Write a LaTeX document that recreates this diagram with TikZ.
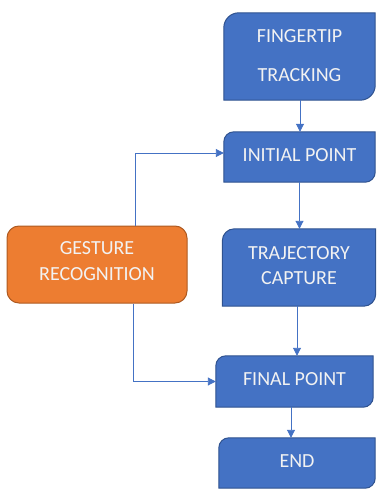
\documentclass[tikz,border=0pt]{standalone}
\usepackage{fontspec}
\setmainfont{Carlito}
\usetikzlibrary{arrows.meta,calc}
\definecolor{boxblue}{HTML}{4472C4}
\definecolor{edgeblue}{HTML}{2F528F}
\definecolor{boxorange}{HTML}{ED7D31}
\definecolor{edgeorange}{HTML}{AE5A21}
\definecolor{txt}{HTML}{F2F2F2}
\newcommand{\diagcornerbox}[2]{%
  \path[fill=boxblue,draw=edgeblue,line width=1pt]
    (#1.south west) -- ([yshift=-#2]#1.north west)
    arc[start angle=180,end angle=90,radius=#2]
    -- (#1.north east) -- ([yshift=#2]#1.south east)
    arc[start angle=0,end angle=-90,radius=#2] -- cycle;}
\tikzset{
  box/.style={rectangle,inner sep=0pt,text=txt,align=center,
    font=\fontsize{20}{25.5}\selectfont},
  orangebox/.style={rectangle,fill=boxorange,draw=edgeorange,line width=1pt,rounded corners=12pt},
  link/.style={draw=boxblue,line width=0.9pt,-{Triangle[length=8pt,width=8pt]}}
}
\begin{document}
\begin{tikzpicture}[x=1pt,y=-1pt]
\useasboundingbox (0,0) rectangle (376,489);
\node[box,minimum width=151pt,minimum height=87pt] (ft) at (299.5,56.5) {};
\node[box,minimum width=151pt,minimum height=50pt] (ip) at (299.5,157) {};
\node[box,minimum width=153pt,minimum height=77pt] (tc) at (299,267.5) {};
\node[box,minimum width=157pt,minimum height=51pt] (fp) at (294.5,381.5) {};
\node[box,minimum width=156pt,minimum height=50pt] (en) at (297,463) {};
\node[orangebox,minimum width=180pt,minimum height=77pt] (gr) at (97,264.5) {};
\diagcornerbox{ft}{15pt}
\diagcornerbox{ip}{10pt}
\diagcornerbox{tc}{12pt}
\diagcornerbox{fp}{10pt}
\diagcornerbox{en}{10pt}
\node[box] at ([yshift=1pt]ft) {FINGERTIP\\[14pt]TRACKING};
\node[box] at ([yshift=1.5pt]ip) {INITIAL POINT};
\node[box] at ([yshift=2pt]tc) {TRAJECTORY\\CAPTURE};
\node[box] at ([yshift=2pt]fp) {FINAL POINT};
\node[box] at ([yshift=1.5pt]en) {END};
\node[box] at ([yshift=3.5pt]gr) {GESTURE\\RECOGNITION};
\draw[link] ([xshift=0.5pt]ft.south) -- ([xshift=0.5pt]ip.north);
\draw[link] (ip.south) -- (ip.south |- tc.north);
\draw[link] ([xshift=-2pt]tc.south) -- ([xshift=-2pt]tc.south |- fp.north);
\draw[link] ([xshift=-3.5pt]fp.south) -- ([xshift=-3.5pt]fp.south |- en.north);
\draw[link] ([xshift=38pt]gr.north) |- ([yshift=4pt]ip.west);
\draw[link] ([xshift=36pt]gr.south) |- (fp.west);
\end{tikzpicture}
\end{document}
